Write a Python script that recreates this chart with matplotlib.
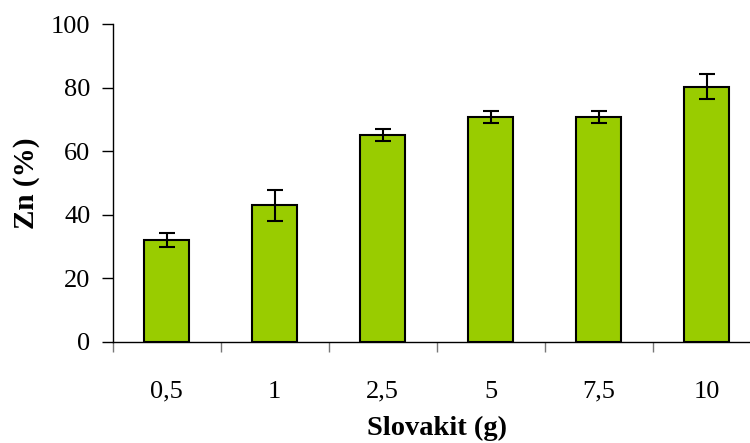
import matplotlib.pyplot as plt
import numpy as np

# Zn removal vs. Slovakit dose
doses = ['0,5', '1', '2,5', '5', '7,5', '10']
zn = [32.2, 43.0, 65.3, 70.8, 70.8, 80.4]
zn_err = [2.2, 4.9, 1.9, 1.8, 1.8, 4.0]
y_ticks = [0, 20, 40, 60, 80, 100]

plt.rcParams['font.family'] = ['Liberation Serif', 'DejaVu Serif']

fig = plt.figure(figsize=(7.5, 4.43), dpi=100)
# axes runs a bit past the right edge, so the last category sits near the border
ax = fig.add_axes([112.7 / 750, 101 / 443, 648 / 750, 317.7 / 443])

x = np.arange(len(doses))
ax.bar(x, zn, width=0.42, color='#99cc00', edgecolor='black', linewidth=1.5,
       zorder=2)
ax.errorbar(x, zn, yerr=zn_err, fmt='none', ecolor='black', elinewidth=1.5,
            capsize=6, capthick=1.5, zorder=3)

ax.set_xlim(-0.5, 5.5)
ax.set_ylim(0, 100)
ax.set_yticks(y_ticks)
ax.tick_params(axis='y', direction='out', length=8, width=1, pad=8,
               labelsize=19)

# tick marks between bars, labels under bars
ax.set_xticks(np.arange(-0.5, 6.0, 1.0))
ax.set_xticklabels([])
ax.set_xticks(x, minor=True)
ax.set_xticklabels(doses, minor=True)
ax.tick_params(axis='x', which='major', direction='out', length=7, width=1,
               color='#777777')
ax.tick_params(axis='x', which='minor', length=0, pad=28, labelsize=19)

ax.spines['top'].set_visible(False)
ax.spines['right'].set_visible(False)
ax.spines['left'].set_linewidth(1)
ax.spines['bottom'].set_linewidth(1)

ax.set_xlabel('Slovakit (g)', fontsize=20.5, fontweight='bold', labelpad=9)
ax.set_ylabel('Zn (%)', fontsize=21, fontweight='bold', labelpad=8)

fig.savefig('out.png', dpi=100)
